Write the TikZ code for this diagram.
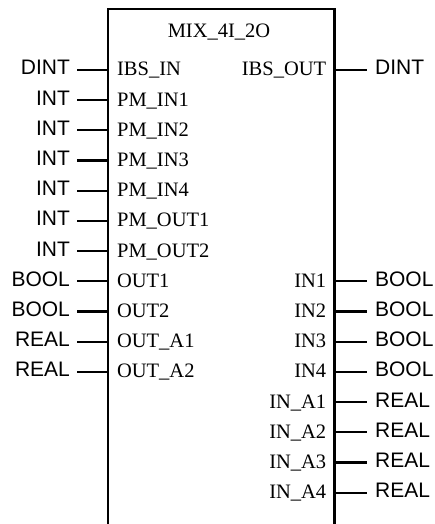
\documentclass[tikz,border=0pt]{standalone}
\usepackage{fontspec}
\setmainfont{Liberation Serif}
\setsansfont{Liberation Sans}
\begin{document}
\begin{tikzpicture}[x=1pt,y=1pt,line width=2.2pt,
  tyl/.style={font=\sffamily\fontsize{21}{25}\selectfont,anchor=east,inner xsep=6pt,inner ysep=0pt,text height=10pt,text depth=0pt},
  tyr/.style={font=\sffamily\fontsize{21}{25}\selectfont,anchor=west,inner xsep=7pt,inner ysep=0pt,text height=10pt,text depth=0pt},
  pinname/.style={font=\fontsize{20.5}{24}\selectfont,inner sep=0pt}]
\useasboundingbox (0,0) rectangle (434,524);
\coordinate (bl) at (108,0);
\coordinate (tl) at (108,515);
\coordinate (tr) at (334.5,515);
\coordinate (br) at (334.5,0);
\draw (bl) -- (tl) -- (tr) -- (br);
\node[pinname,anchor=base] (title) at (219,486) {MIX\_4I\_2O};
\foreach \k/\t/\n [count=\i] in {0/DINT/IBS\_IN,1/INT/PM\_IN1,2/INT/PM\_IN2,3/INT/PM\_IN3,4/INT/PM\_IN4,5/INT/PM\_OUT1,6/INT/PM\_OUT2,7/BOOL/OUT1,8/BOOL/OUT2,9/REAL/OUT\_A1,10/REAL/OUT\_A2}{
  \pgfmathsetmacro\Y{524-70-30.2*\k}
  \coordinate (pL\i) at (108,\Y);
  \node[tyl] (tL\i) at (77,\Y) {\t};
  \node[pinname,anchor=base west] (nL\i) at (116,\Y-6) {\n};
  \draw (tL\i.east) -- (pL\i);
}
\foreach \k/\t/\n [count=\i] in {0/DINT/IBS\_OUT,7/BOOL/IN1,8/BOOL/IN2,9/BOOL/IN3,10/BOOL/IN4,11/REAL/IN\_A1,12/REAL/IN\_A2,13/REAL/IN\_A3,14/REAL/IN\_A4}{
  \pgfmathsetmacro\Y{524-70-30.2*\k}
  \coordinate (pR\i) at (334.5,\Y);
  \node[tyr] (tR\i) at (367,\Y) {\t};
  \node[pinname,anchor=base east] (nR\i) at (327.3,\Y-6) {\n};
  \draw (pR\i) -- (tR\i.west);
}
\end{tikzpicture}
\end{document}
